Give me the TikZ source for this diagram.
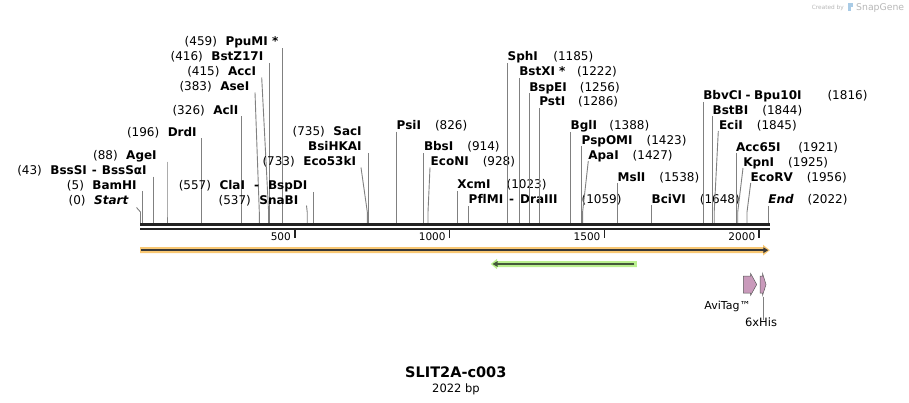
\documentclass[tikz,border=0pt]{standalone}
\usepackage{fontspec}
\setmainfont[Ligatures={NoCommon}]{DejaVu Sans}
\usetikzlibrary{arrows.meta}
\definecolor{enzgray}{HTML}{808080}
\definecolor{bbone}{HTML}{222222}
\definecolor{orfill}{HTML}{F9C874}
\definecolor{grfill}{HTML}{BAF08E}
\definecolor{grline}{HTML}{44593A}
\definecolor{pinkfill}{HTML}{C99ABB}
\definecolor{wmgray}{HTML}{B8B8B8}
\definecolor{wmblue}{HTML}{A9CBE6}
\newcommand\nm[1]{{\fontsize{12}{14}\selectfont\bfseries #1}}
\newcommand\nb[1]{{\fontsize{12}{14}\selectfont #1}}
\newcommand\mydsh[1]{\hspace{#1}-\hspace{#1}}
\newcommand\cutline[3]{\coordinate (#1t) at (#2); \coordinate (#1k) at (#3,212); \coordinate (#1b) at (#3,223); \draw[enz] (#1t) -- (#1k) -- (#1b);}
\newcommand\Lab[4]{\node[lab,anchor=base east] (#1) at (#2) {\nb{(#3)}\hspace{8.5pt}\nm{#4}};}
\newcommand\Rab[5][14pt]{\node[lab,anchor=base west] (#2) at (#3) {\nm{#5}\hspace{#1}\nb{(#4)}};}
\begin{document}
\begin{tikzpicture}[x=1pt,y=-1pt,
  lab/.style={inner sep=0pt, outer sep=0pt, text=black},
  enz/.style={draw=enzgray, line width=0.9pt},
  bb/.style={draw=bbone, line width=2.6pt},
  tick/.style={draw=bbone, line width=1.5pt},
  ticklab/.style={inner sep=0pt, anchor=base east, font=\fontsize{10.5}{12}\selectfont}]
\useasboundingbox (0,0) rectangle (909,403);
\fill[white] (0,0) rectangle (909,403);

% watermark
\node[inner sep=0pt, anchor=base west, text=wmgray, font=\fontsize{5.8}{7}\selectfont] (wm1) at (811.7,9.5) {Created by};
\fill[wmblue] (848,3.5) rectangle (853,7.5);
\fill[wmblue] (848,7.5) rectangle (850.5,11.5);
\node[inner sep=0pt, anchor=base west, text=wmgray, font=\fontsize{9.3}{10}\selectfont] (wm2) at (856,10.5) {SnapGene};

% left labels
\Lab{e0}{128.3,204.4}{0}{\itshape Start} \cutline{e0}{136.5,207.5}{140.5}
\Lab{e5}{136.7,189.4}{5}{BamHI} \cutline{e5}{142.3,191}{142.3}
\Lab{e43}{146.7,174.4}{43}{BssSI\mydsh{5pt}BssSαI} \cutline{e43}{153.3,176.7}{153.3}
\Lab{e88}{156.7,160}{88}{AgeI} \cutline{e88}{167,161.7}{167}
\Lab{e196}{196.7,137}{196}{DrdI} \cutline{e196}{201.7,138.5}{201.7}
\Lab{e326}{238.3,115}{326}{AclI} \cutline{e326}{241.7,116.5}{241.7}
\Lab{e383}{249.3,91}{383}{AseI} \cutline{e383}{255,92.5}{259.3}
\Lab{e415}{256,76}{415}{AccI} \cutline{e415}{261.7,77.5}{268.6}
\Lab{e416}{263.3,60.4}{416}{BstZ17I} \cutline{e416}{269.6,63}{269.6}
\Lab{e459}{278.3,46}{459}{PpuMI *} \cutline{e459}{282.7,48.3}{282.7}
\Lab{e557}{307.3,189.4}{557}{ClaI\mydsh{9pt}BspDI} \cutline{e557}{313.3,192}{313.3}
\Lab{e537}{298.3,204.4}{537}{SnaBI} \cutline{e537}{306.5,205.5}{307.2}
\Lab{e733}{356,166}{733}{Eco53kI} \cutline{e733}{361,167.5}{367.3}
\node[lab,anchor=base east] (bsihk) at (361.7,151) {\nm{BsiHKAI}};
\cutline{e735}{368.3,153}{368.3}
\Lab{e735}{361.7,136}{735}{SacI}

% right labels
\Rab{e826}{396.7,129.4}{826}{PsiI} \cutline{e826}{396.7,131.7}{396.7}
\Rab{e914}{424,151}{914}{BbsI} \cutline{e914}{423.3,153.3}{423.3}
\Rab{e928}{430.7,166}{928}{EcoNI} \cutline{e928}{430,167.5}{428}
\Rab[16pt]{e1023}{457.3,188.7}{1023}{XcmI} \cutline{e1023}{457.3,191.5}{457.3}
\Rab[24pt]{e1059}{468.7,203.7}{1059}{PflMI\mydsh{6pt}DraIII} \cutline{e1059}{468.7,206.5}{468.7}
\Rab[15.4pt]{e1185}{507.7,61}{1185}{SphI} \cutline{e1185}{507.7,63.3}{507.7}
\Rab[11.5pt]{e1222}{519.3,76}{1222}{BstXI *} \cutline{e1222}{519.3,78.3}{519.3}
\Rab[13pt]{e1256}{529.3,91.7}{1256}{BspEI} \cutline{e1256}{529.3,93.3}{529.3}
\Rab[13pt]{e1286}{539.3,106}{1286}{PstI} \cutline{e1286}{539.3,108.3}{539.3}
\Rab[12.3pt]{e1388}{570.7,129.4}{1388}{BglI} \cutline{e1388}{570.7,132}{570.7}
\Rab{e1423}{581.7,144.4}{1423}{PspOMI} \cutline{e1423}{581.7,146}{581.7}
\Rab{e1427}{588.3,159.4}{1427}{ApaI} \cutline{e1427}{588.3,161}{582.6}
\Rab{e1538}{617.7,181.4}{1538}{MslI} \cutline{e1538}{617.7,183}{617.7}
\Rab{e1648}{651.7,203.4}{1648}{BciVI} \cutline{e1648}{651.7,205}{651.7}
\Rab[26pt]{e1816}{703.3,99.4}{1816}{BbvCI\mydsh{3.5pt}Bpu10I} \cutline{e1816}{703.3,102}{703.3}
\Rab{e1844}{712.7,114.4}{1844}{BstBI} \cutline{e1844}{712.7,116}{712.7}
\Rab{e1845}{719,129.4}{1845}{EciI} \cutline{e1845}{718.3,131}{714.2}
\Rab[17.6pt]{e1921}{736,151.4}{1921}{Acc65I} \cutline{e1921}{736,153}{736}
\Rab{e1925}{743.3,166.4}{1925}{KpnI} \cutline{e1925}{743,168}{737.7}
\Rab{e1956}{750.7,181.4}{1956}{EcoRV} \cutline{e1956}{750.7,183}{747}
\Rab{e2022}{768.3,203.4}{2022}{\itshape End} \cutline{e2022}{768,206}{768}

% backbone
\coordinate (bbL1) at (140,224.6); \coordinate (bbR1) at (769.5,224.6);
\coordinate (bbL2) at (140,229.2); \coordinate (bbR2) at (769.5,229.2);
\draw[bb] (bbL1) -- (bbR1);
\draw[bb] (bbL2) -- (bbR2);

% ticks
\foreach \v/\xx in {500/294.8,1000/449.6,1500/604.4,2000/759.2}{
  \coordinate (tk\v a) at (\xx,230);
  \coordinate (tk\v b) at (\xx,237.5);
  \draw[tick] (tk\v a) -- (tk\v b);
  \node[ticklab] (tl\v) at (\xx-3.8,240.2) {\v};
}

% orange feature
\fill[orfill] (140,247.2) -- (763,247.2) -- (763,244.8) -- (769.8,250.2) -- (763,255.6) -- (763,253.2) -- (140,253.2) -- cycle;
\coordinate (orA) at (141,250.2); \coordinate (orB) at (768.3,250.2);
\draw[draw=bbone!90, line width=1.8pt, -{Triangle[length=5pt,width=5.5pt]}] (orA) -- (orB);

% green feature
\fill[grfill] (636.8,261) -- (497,261) -- (497,258.8) -- (490.8,264) -- (497,269.2) -- (497,267) -- (636.8,267) -- cycle;
\coordinate (grA) at (634.4,264); \coordinate (grB) at (492.5,264);
\draw[draw=grline, line width=1.8pt, -{Triangle[length=5pt,width=5.5pt]}] (grA) -- (grB);

% AviTag and 6xHis
\filldraw[fill=pinkfill, draw=black!65, line width=0.5pt] (743.3,276) -- (750.7,276) -- (750.7,273.6) -- (756.7,284.5) -- (750.7,295.2) -- (750.7,293) -- (743.3,293) -- cycle;
\filldraw[fill=pinkfill, draw=black!65, line width=0.5pt] (760.2,276) -- (762.6,276) -- (762.6,273.6) -- (766,284.5) -- (762.6,295.2) -- (762.6,293) -- (760.2,293) -- cycle;
\node[lab, anchor=base, font=\fontsize{11}{12}\selectfont] (avi) at (727.5,309.3) {AviTag™};
\coordinate (hisT) at (763.3,296.5);
\node[lab, anchor=base, font=\fontsize{11.5}{12}\selectfont] (his) at (761,326) {6xHis};
\draw[draw=enzgray, line width=0.7pt] (hisT) -- ([yshift=-2.5pt]his.north -| hisT);

% title
\node[lab, anchor=base, font=\fontsize{14.5}{16}\selectfont\bfseries] (title) at (455.8,377) {SLIT2A-c003};
\node[lab, anchor=base, font=\fontsize{11.5}{13}\selectfont] (len) at (456,392) {2022 bp};
\end{tikzpicture}
\end{document}
